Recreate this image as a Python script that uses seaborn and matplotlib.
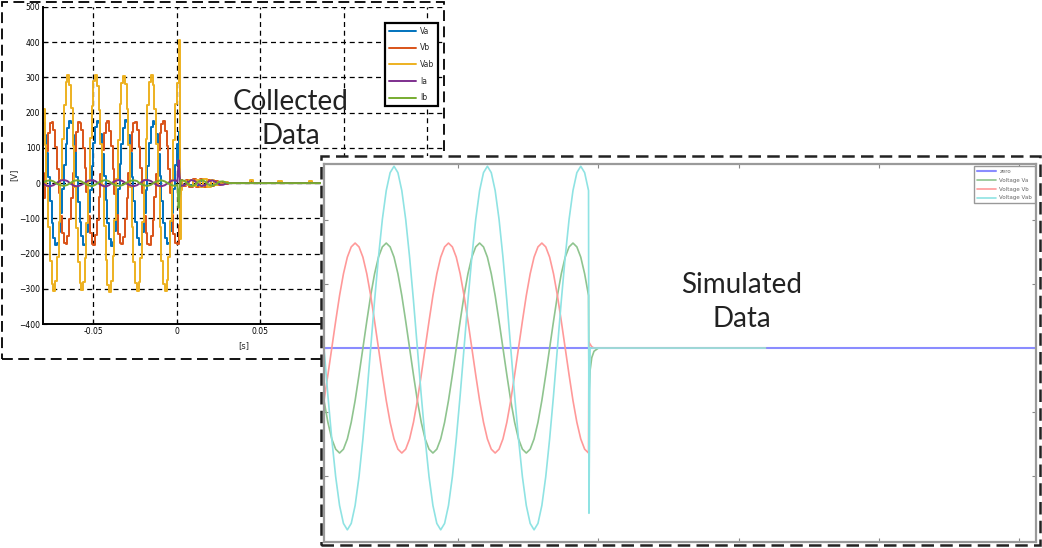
import numpy as np
import pandas as pd
import matplotlib
matplotlib.use("Agg")
import matplotlib.pyplot as plt
import seaborn as sns
from matplotlib.patches import Rectangle

# ---------------- Collected data (left panel) ----------------
c_t_start = -0.080          # first sample time [s]
c_dt_v = 1 / 960            # voltage sample period [s]
c_dt_i = 1 / 480            # current sample period [s]

va_c = [171, 138, 85, 18, -51, -112, -157, -177, -171, -138, -85, -18, 51, 112, 157, 177,
        172, 136, 87, 16, -54, -110, -150, -176, -173, -140, -83, -20, 49, 115, 160, 175,
        170, 139, 84, 20, -49, -113, -158, -178, -168, -137, -87, -16, 53, 110, 156, 178,
        173, 137, 86, 17, -52, -109, -155, -175, -172, -139, -84, -19, 50, 113, 158, 176,
        169, 140, 83, 19, -50, -114, -156, -174, -170, -136, -86, -17, 52, 111, 145]
vb_c = [-41, 28, 92, 143, 171, 174, 150, 103, 41, -28, -92, -143, -171, -174, -150, -103,
        -43, 30, 90, 145, 173, 172, 152, 100, 43, -26, -94, -141, -173, -176, -148, -105,
        -39, 26, 93, 141, 170, 176, 148, 105, 39, -30, -90, -145, -169, -172, -152, -101,
        -42, 29, 91, 144, 172, 173, 151, 102, 42, -27, -93, -142, -172, -175, -149, -104,
        -40, 27, 94, 142, 169, 175, 149, 104, 40, -29, -91, -144, -170, -173, -151]
vab_c = [210, 109, -9, -125, -222, -286, -306, -279, -210, -109, 9, 125, 222, 286, 306, 279,
         213, 106, -11, -128, -225, -283, -303, -282, -214, -112, 6, 127, 220, 289, 308, 276,
         208, 111, -6, -122, -219, -288, -309, -277, -207, -106, 11, 122, 225, 284, 304, 281,
         211, 108, -10, -126, -223, -285, -305, -280, -212, -110, 8, 126, 221, 287, 307, 278,
         209, 110, -8, -124, -220, -287, -307, -276, -209, -108, 10, 123, 224, 285, 300]

# after the fault
t_c_post = [0.0016, 0.0021, 0.0028, 0.0035, 0.0056, 0.0077, 0.0098, 0.0119, 0.0140, 0.0161,
            0.0182, 0.0203, 0.0224, 0.0245, 0.0266, 0.0287, 0.0308, 0.0400, 0.0440, 0.0460,
            0.0560, 0.0610, 0.0630, 0.0740, 0.0790, 0.0810, 0.0920, 0.1000, 0.1600]
va_c_post = [60, -20, 8, -4, 6, -6, 5, -7, 6, -8, 7, -5, 4, -3, 2, -1, 0, 0, 2, 0,
             0, 1, 0, 0, 1, 0, 0, 0, 0]
vb_c_post = [-120, -30, 10, -8, 9, -10, 11, -12, 12, -11, 9, -7, 5, -4, 3, -2, 0, 0, 5, 0,
             0, 4, 0, 0, 3, 0, 0, 0, 0]
vab_c_post = [405, -160, -20, 6, -5, 8, -9, 10, -12, 11, -10, 8, -6, 4, -3, 2, 0, 0, 8, 0,
              0, 7, 0, 0, 6, 0, 0, 0, 0]

ia_c = [-1, -7, -9, -6, 1, 7, 9, 6, -2, -8, -9, -5, 1, 7, 8, 6, -1, -7, -10, -6,
        2, 7, 9, 5, -1, -6, -9, -6, 1, 8, 9, 6, -1, -7, -9, -6, 1, 7, 8]
ib_c = [2, 6, 8, 5, -2, -6, -8, -5, 1, 7, 8, 5, -1, -6, -9, -5, 2, 6, 9, 5,
        -2, -7, -8, -5, 1, 6, 8, 6, -2, -6, -8, -5, 2, 6, 8, 5, -1, -6, -8]
t_i_post = [0.0005, 0.0012, 0.0018, 0.0025, 0.0046, 0.0067, 0.0088, 0.0109, 0.0130, 0.0151,
            0.0172, 0.0193, 0.0214, 0.0235, 0.0256, 0.0277, 0.0298, 0.0320, 0.1600]
ia_c_post = [5, 65, 20, -8, -6, 2, 9, 6, -3, -9, -4, 5, 8, 3, -4, -5, -1, 0, 0]
ib_c_post = [-4, -70, -20, 8, 7, -2, -9, -5, 4, 9, 4, -5, -8, -3, 4, 5, 1, 0, 0]

c_labels = ["Va", "Vb", "Vab", "Ia", "Ib"]
c_colors = ["#0072BD", "#D95319", "#EDB120", "#7E2F8E", "#77AC30"]
c_xticks = [-0.05, 0, 0.05, 0.1, 0.15]
c_xticklabels = ["-0.05", "0", "0.05", "0.1", "0.15"]
c_yticks = [-400, -300, -200, -100, 0, 100, 200, 300, 400, 500]

# ---------------- Simulated data (right panel) ----------------
s_t_start = 0.001
s_dt = 1 / 1440
va_s = [-82, -116, -142, -158, -164, -158, -142, -116, -82, -42, 0, 42, 82, 116, 142, 158, 164, 158, 142, 116, 82, 42, 0, -42,
        -82, -116, -142, -158, -164, -158, -142, -116, -82, -42, 0, 42, 82, 116, 142, 158, 164, 158, 142, 116, 82, 42, 0, -42,
        -82, -116, -142, -158, -164, -158, -142, -116, -82, -42, 0, 42, 82, 116, 142, 158, 164, 158, 142, 116, 82]
vb_s = [-82, -42, 0, 42, 82, 116, 142, 158, 164, 158, 142, 116, 82, 42, 0, -42, -82, -116, -142, -158, -164, -158, -142, -116,
        -82, -42, 0, 42, 82, 116, 142, 158, 164, 158, 142, 116, 82, 42, 0, -42, -82, -116, -142, -158, -164, -158, -142, -116,
        -82, -42, 0, 42, 82, 116, 142, 158, 164, 158, 142, 116, 82, 42, 0, -42, -82, -116, -142, -158, -164]
vab_s = [0, -74, -142, -201, -246, -274, -284, -274, -246, -201, -142, -74, 0, 74, 142, 201, 246, 274, 284, 274, 246, 201, 142, 74,
         0, -74, -142, -201, -246, -274, -284, -274, -246, -201, -142, -74, 0, 74, 142, 201, 246, 274, 284, 274, 246, 201, 142, 74,
         0, -74, -142, -201, -246, -274, -284, -274, -246, -201, -142, -74, 0, 74, 142, 201, 246, 274, 284, 274, 246]
t_s_post = [0.0483, 0.0485, 0.0488, 0.0492, 0.0500, 0.0798]
va_s_post = [-73, -35, -15, -5, 0, 0]
vb_s_post = [9, 6, 2, 0, 0, 0]
vab_s_post = [-258, 0, 0, 0, 0, 0]
t_zero = [0.001, 0.1281]
zero_s = [0, 0]

s_labels = ["zero", "Voltage Va", "Voltage Vb", "Voltage Vab"]
s_colors = ["#8a8cff", "#8fc48f", "#ff9999", "#8fe3e3"]
s_xticks = [0.025, 0.05, 0.075, 0.1, 0.125]
s_yticks = [-200, -100, 0, 100, 200]

# ---------------- Figure ----------------
sns.set_theme(style="white")
plt.rcParams["font.family"] = ["DejaVu Sans"]

W, H = 1042, 548
fig = plt.figure(figsize=(W / 100, H / 100), dpi=100)
fig.patch.set_facecolor("white")


def fx(px):
    return px / W


def fy(py):
    return 1 - py / H


# ---- collected axes ----
ax1 = fig.add_axes([fx(43), fy(324), 400.8 / W, 317 / H])
ax1.set_zorder(0)
ax1.set_facecolor("white")

t_cv = list(c_t_start + np.arange(len(va_c)) * c_dt_v) + t_c_post
t_ci = list(c_t_start + np.arange(len(ia_c)) * c_dt_i) + t_i_post
c_series = [va_c + va_c_post, vb_c + vb_c_post, vab_c + vab_c_post]
for vals, lab, col in zip(c_series, c_labels[:3], c_colors[:3]):
    sns.lineplot(x=t_cv, y=vals, ax=ax1, color=col, lw=1.4, label=lab,
                 drawstyle="steps-post", sort=False, estimator=None)
for vals, lab, col in zip([ia_c + ia_c_post, ib_c + ib_c_post], c_labels[3:], c_colors[3:]):
    sns.lineplot(x=t_ci, y=vals, ax=ax1, color=col, lw=1.4, label=lab,
                 sort=False, estimator=None)

ax1.set_xlim(-0.08, 0.16)
ax1.set_ylim(-400, 500)
ax1.set_xticks(c_xticks)
ax1.set_xticklabels(c_xticklabels)
ax1.set_yticks(c_yticks)
ax1.tick_params(axis="both", direction="in", length=3, width=0.8, labelsize=5.5,
                colors="black", pad=2, left=True, bottom=True)
ax1.grid(True, color="black", linestyle=(0, (4, 3)), lw=0.9)
for s in ["top", "right"]:
    ax1.spines[s].set_visible(False)
for s in ["left", "bottom"]:
    ax1.spines[s].set_color("black")
    ax1.spines[s].set_linewidth(1.4)
ax1.set_xlabel("[s]", fontsize=6, labelpad=4)
ax1.set_ylabel("[V]", fontsize=6)
ax1.yaxis.set_label_coords((18 - 43) / 400.8, 1 - (175 - 7) / 317)
leg1 = ax1.legend(loc="upper right", bbox_to_anchor=(0.9855, 0.9495), borderaxespad=0,
                  fontsize=5.5, handlelength=3.6, labelspacing=1.0, frameon=True,
                  fancybox=False, borderpad=0.5, handletextpad=0.5, framealpha=1)
leg1.get_frame().set_edgecolor("black")
leg1.get_frame().set_facecolor("white")
leg1.get_frame().set_linewidth(1.6)
leg1.set_zorder(10)
ax1.text((291 - 43) / 400.8, 1 - (119 - 7) / 317, "Collected\nData",
         transform=ax1.transAxes, ha="center", va="center", fontsize=20,
         family=["Lato", "DejaVu Sans"], color="#222222", linespacing=1.35, zorder=6)

# collected panel dashed frame
fig.patches.append(Rectangle((fx(2), fy(359)), 442 / W, 357 / H, transform=fig.transFigure,
                             fill=False, edgecolor="black", lw=1.3, linestyle=(0, (6, 3)),
                             zorder=1))

# ---- simulated panel background ----
fig.patches.append(Rectangle((fx(321), fy(546)), 719 / W, 390 / H, transform=fig.transFigure,
                             facecolor="white", edgecolor="none", zorder=2))

ax2 = fig.add_axes([fx(324), fy(542), 712 / W, 378 / H])
ax2.set_zorder(3)
ax2.set_facecolor("white")

t_s = list(s_t_start + np.arange(len(va_s)) * s_dt) + t_s_post
sns.lineplot(x=t_zero, y=zero_s, ax=ax2, color=s_colors[0], lw=1.5, label=s_labels[0],
             sort=False, estimator=None)
for vals, lab, col in zip([va_s + va_s_post, vb_s + vb_s_post, vab_s + vab_s_post],
                          s_labels[1:], s_colors[1:]):
    sns.lineplot(x=t_s, y=vals, ax=ax2, color=col, lw=1.2, label=lab,
                 sort=False, estimator=None)

ax2.set_xlim(0.001, 0.1281)
ax2.set_ylim(-303, 287.5)
ax2.set_xticks(s_xticks)
ax2.set_yticks(s_yticks)
ax2.set_xticklabels([])
ax2.set_yticklabels([])
ax2.tick_params(axis="both", direction="in", length=3, width=0.8, colors="#888888",
                top=True, right=True, bottom=True, left=True)
for s in ax2.spines.values():
    s.set_color("#9a9a9a")
    s.set_linewidth(1.6)
leg2 = ax2.legend(loc="upper right", bbox_to_anchor=(0.9986, 0.9947), borderaxespad=0,
                  fontsize=4, handlelength=3.5, labelspacing=0.7, frameon=True,
                  fancybox=False, borderpad=0.5, handletextpad=0.6, framealpha=1)
leg2.get_frame().set_edgecolor("#999999")
leg2.get_frame().set_linewidth(1.0)
for txt in leg2.get_texts():
    txt.set_color("#666666")
ax2.text((742 - 324) / 712, 1 - (302 - 164) / 378, "Simulated\nData",
         transform=ax2.transAxes, ha="center", va="center", fontsize=20,
         family=["Lato", "DejaVu Sans"], color="#222222", linespacing=1.35, zorder=6)

fig.patches.append(Rectangle((fx(321), fy(545)), 719 / W, 389 / H, transform=fig.transFigure,
                             fill=False, edgecolor="#222222", lw=1.8, linestyle=(0, (5, 2.5)),
                             zorder=4))

fig.savefig("out.png", dpi=100, facecolor="white")
